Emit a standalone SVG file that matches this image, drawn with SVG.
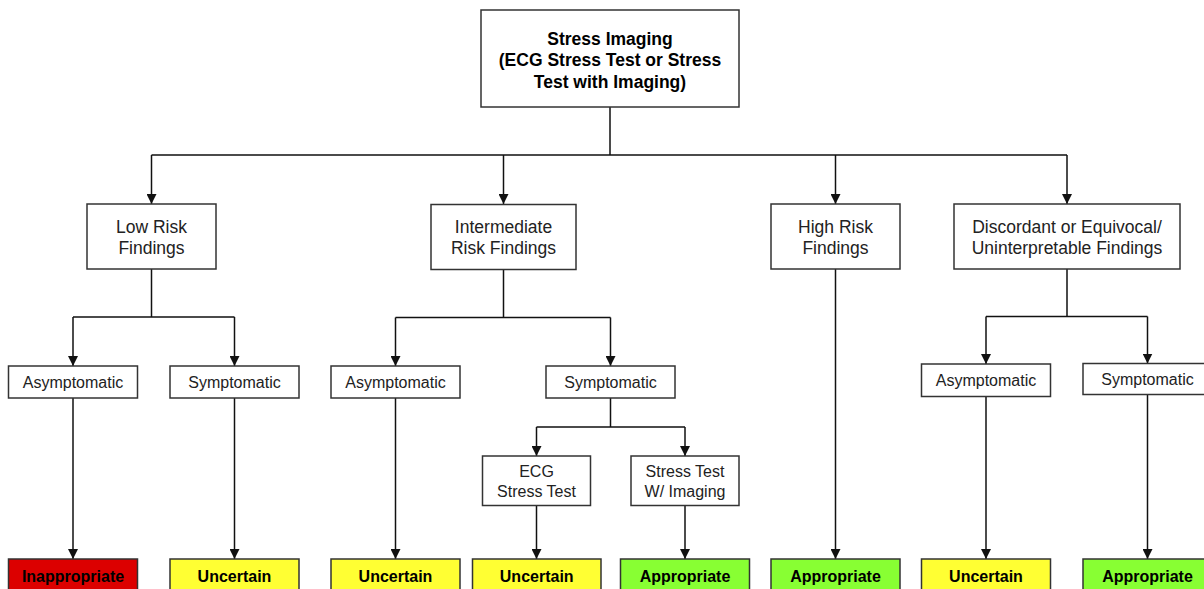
<svg xmlns="http://www.w3.org/2000/svg" width="1204" height="589" viewBox="0 0 1204 589">
<defs>
<marker id="arr" viewBox="0 0 10 10" refX="10" refY="5" markerWidth="10" markerHeight="10" markerUnits="userSpaceOnUse" orient="auto">
<path d="M0,0 L10,5 L0,10 z" fill="#111"/>
</marker>
<style>
.box{fill:#fff;stroke:#333;stroke-width:1.5}
.red{fill:#dc0000;stroke:#333;stroke-width:1.5}
.yel{fill:#ffff33;stroke:#333;stroke-width:1.5}
.grn{fill:#88ff33;stroke:#333;stroke-width:1.5}
.t{font-family:"Liberation Sans",Arial,sans-serif;font-size:17.5px;fill:#222;text-anchor:middle}
.s{font-family:"Liberation Sans",Arial,sans-serif;font-size:16px;fill:#222;text-anchor:middle}
.b{font-family:"Liberation Sans",Arial,sans-serif;font-size:16px;font-weight:bold;fill:#000;text-anchor:middle}
.h{font-family:"Liberation Sans",Arial,sans-serif;font-size:17.5px;font-weight:bold;fill:#000;text-anchor:middle}
.c{fill:none;stroke:#111;stroke-width:1.5}
.a{fill:none;stroke:#111;stroke-width:1.5;marker-end:url(#arr)}
</style>
</defs>
<rect width="1204" height="589" fill="#fff"/>

<g id="connectors">
<path class="c" d="M610,107 V155 M151.5,155 H1067"/>
<path class="a" d="M151.5,155 V204"/>
<path class="a" d="M503.5,155 V204"/>
<path class="a" d="M835.5,155 V204"/>
<path class="a" d="M1067,155 V204"/>

<path class="c" d="M151.5,269 V317 M73,317 H234.5"/>
<path class="a" d="M73,317 V366"/>
<path class="a" d="M234.5,317 V366"/>

<path class="c" d="M503.5,269 V317.5 M395.5,317.5 H610.5"/>
<path class="a" d="M395.5,317.5 V366"/>
<path class="a" d="M610.5,317.5 V366"/>

<path class="a" d="M835.5,269 V559"/>

<path class="c" d="M1067,269 V316.5 M986,316.5 H1147.5"/>
<path class="a" d="M986,316.5 V364"/>
<path class="a" d="M1147.5,316.5 V363.5"/>

<path class="c" d="M610.5,398 V427 M536.5,427 H685"/>
<path class="a" d="M536.5,427 V456"/>
<path class="a" d="M685,427 V456"/>

<path class="a" d="M73,398 V559"/>
<path class="a" d="M234.5,398 V559"/>
<path class="a" d="M395.5,398 V559"/>
<path class="a" d="M536.5,505.5 V559"/>
<path class="a" d="M685,505.5 V559"/>
<path class="a" d="M986,396.5 V559"/>
<path class="a" d="M1147.5,394.5 V559"/>
</g>

<g id="root">
<rect class="box" x="481" y="10" width="258" height="97"/>
<text class="h" x="610" y="44.5">Stress Imaging</text>
<text class="h" x="610" y="66">(ECG Stress Test or Stress</text>
<text class="h" x="610" y="87.5">Test with Imaging)</text>
</g>

<g id="low-risk">
<rect class="box" x="87" y="204" width="129" height="65"/>
<text class="t" x="151.5" y="232.5">Low Risk</text>
<text class="t" x="151.5" y="253.5">Findings</text>
</g>
<g id="intermediate-risk">
<rect class="box" x="431" y="204.5" width="145" height="65"/>
<text class="t" x="503.5" y="233">Intermediate</text>
<text class="t" x="503.5" y="254">Risk Findings</text>
</g>
<g id="high-risk">
<rect class="box" x="771" y="204" width="129" height="65"/>
<text class="t" x="835.5" y="232.5">High Risk</text>
<text class="t" x="835.5" y="253.5">Findings</text>
</g>
<g id="discordant">
<rect class="box" x="954" y="204" width="226" height="65"/>
<text class="t" x="1067" y="232.5">Discordant or Equivocal/</text>
<text class="t" x="1067" y="253.5">Uninterpretable Findings</text>
</g>

<g id="low-asym">
<rect class="box" x="8.5" y="366" width="129" height="32"/>
<text class="s" x="73" y="388">Asymptomatic</text>
</g>
<g id="low-sym">
<rect class="box" x="170" y="366" width="129" height="32"/>
<text class="s" x="234.5" y="388">Symptomatic</text>
</g>
<g id="int-asym">
<rect class="box" x="331" y="366" width="129" height="32"/>
<text class="s" x="395.5" y="388">Asymptomatic</text>
</g>
<g id="int-sym">
<rect class="box" x="546" y="366" width="129" height="32"/>
<text class="s" x="610.5" y="388">Symptomatic</text>
</g>
<g id="disc-asym">
<rect class="box" x="921.5" y="364" width="129" height="32.5"/>
<text class="s" x="986" y="386">Asymptomatic</text>
</g>
<g id="disc-sym">
<rect class="box" x="1083" y="363.5" width="129" height="31"/>
<text class="s" x="1147.5" y="385">Symptomatic</text>
</g>

<g id="ecg-stress">
<rect class="box" x="482.5" y="456" width="108" height="49.5"/>
<text class="s" x="536.5" y="477.3">ECG</text>
<text class="s" x="536.5" y="496.7">Stress Test</text>
</g>
<g id="stress-imaging">
<rect class="box" x="631" y="456" width="108" height="49.5"/>
<text class="s" x="685" y="477.3">Stress Test</text>
<text class="s" x="685" y="496.7">W/ Imaging</text>
</g>

<g id="out-low-asym">
<rect class="red" x="8.5" y="559" width="129" height="40"/>
<text class="b" x="73" y="581.7">Inappropriate</text>
</g>
<g id="out-low-sym">
<rect class="yel" x="170" y="559" width="129" height="40"/>
<text class="b" x="234.5" y="581.7">Uncertain</text>
</g>
<g id="out-int-asym">
<rect class="yel" x="331" y="559" width="129" height="40"/>
<text class="b" x="395.5" y="581.7">Uncertain</text>
</g>
<g id="out-ecg">
<rect class="yel" x="472.5" y="559" width="128.5" height="40"/>
<text class="b" x="536.7" y="581.7">Uncertain</text>
</g>
<g id="out-imaging">
<rect class="grn" x="620.5" y="559" width="129" height="40"/>
<text class="b" x="685" y="581.7">Appropriate</text>
</g>
<g id="out-high">
<rect class="grn" x="771" y="559" width="129" height="40"/>
<text class="b" x="835.5" y="581.7">Appropriate</text>
</g>
<g id="out-disc-asym">
<rect class="yel" x="921.5" y="559" width="129" height="40"/>
<text class="b" x="986" y="581.7">Uncertain</text>
</g>
<g id="out-disc-sym">
<rect class="grn" x="1083" y="559" width="129" height="40"/>
<text class="b" x="1147.5" y="581.7">Appropriate</text>
</g>
</svg>
